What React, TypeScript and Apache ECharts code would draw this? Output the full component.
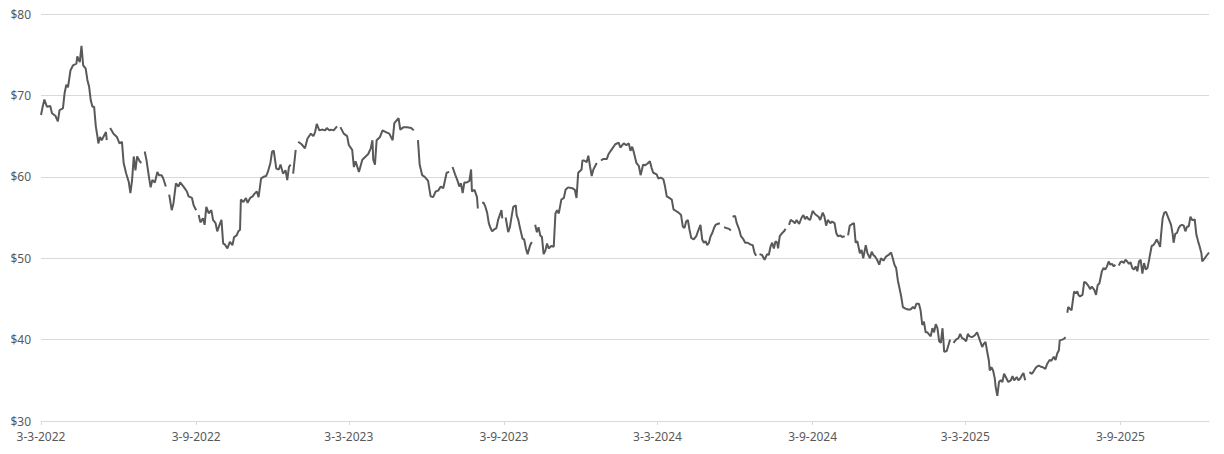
import React, { useEffect, useRef } from 'react';
import * as echarts from 'echarts';

type Point = [string, number | null];

// x-axis tick dates (labels shown as d-m-yyyy)
const tickDates = [
  '2022-03-03', '2022-09-03', '2023-03-03', '2023-09-03',
  '2024-03-03', '2024-09-03', '2025-03-03', '2025-09-03',
];
const firstDate = '2022-03-03';
const lastDate = '2025-12-17';

// closing prices, null = no data (gap in the line)
const prices2022: Point[] = [
  ['2022-03-03', 67.6], ['2022-03-05', 68.6], ['2022-03-07', 69.5], ['2022-03-10', 68.6], ['2022-03-14', 68.7],
  ['2022-03-16', 67.8], ['2022-03-20', 67.5], ['2022-03-23', 66.8], ['2022-03-25', 68.2], ['2022-03-29', 68.4],
  ['2022-03-31', 70.3], ['2022-04-02', 71.3], ['2022-04-04', 71.0], ['2022-04-07', 73.1], ['2022-04-10', 73.7],
  ['2022-04-14', 73.9], ['2022-04-15', 74.8], ['2022-04-18', 74.1], ['2022-04-20', 76.1], ['2022-04-22', 73.7],
  ['2022-04-25', 73.3], ['2022-04-27', 71.9], ['2022-04-29', 71.1], ['2022-05-01', 69.4], ['2022-05-03', 68.6],
  ['2022-05-05', 68.6], ['2022-05-07', 66.2], ['2022-05-09', 64.9], ['2022-05-10', 64.1], ['2022-05-12', 64.9],
  ['2022-05-14', 64.5], ['2022-05-17', 65.1], ['2022-05-19', 65.5], ['2022-05-20', 64.5], ['2022-05-22', null],
  ['2022-05-24', 66.0], ['2022-05-28', 65.3], ['2022-06-01', 64.9], ['2022-06-04', 64.1], ['2022-06-07', 64.3],
  ['2022-06-09', 61.7], ['2022-06-12', 60.4], ['2022-06-15', 59.4], ['2022-06-17', 58.0], ['2022-06-19', 59.6],
  ['2022-06-21', 62.5], ['2022-06-23', 60.8], ['2022-06-25', 62.5], ['2022-06-28', 61.9], ['2022-06-30', 61.7],
  ['2022-07-02', null], ['2022-07-04', 63.1], ['2022-07-06', 62.1], ['2022-07-09', 60.0], ['2022-07-11', 58.7],
  ['2022-07-13', 59.6], ['2022-07-16', 59.3], ['2022-07-19', 60.6], ['2022-07-21', 60.2], ['2022-07-24', 60.2],
  ['2022-07-26', 59.8], ['2022-07-29', 58.8], ['2022-07-31', null], ['2022-08-02', 57.8], ['2022-08-05', 55.9],
  ['2022-08-07', 56.7], ['2022-08-10', 59.2], ['2022-08-13', 58.8], ['2022-08-15', 59.3], ['2022-08-19', 58.8],
  ['2022-08-23', 58.2], ['2022-08-25', 57.6], ['2022-08-29', 57.4], ['2022-08-31', 56.5], ['2022-09-03', 55.9],
  ['2022-09-05', null], ['2022-09-06', 55.3], ['2022-09-08', 54.4], ['2022-09-11', 54.9], ['2022-09-13', 54.1],
  ['2022-09-15', 56.3], ['2022-09-18', 55.5], ['2022-09-21', 55.9], ['2022-09-23', 54.7], ['2022-09-26', 54.3],
  ['2022-09-28', 53.3], ['2022-09-30', 53.9], ['2022-10-03', 54.7], ['2022-10-05', 51.8], ['2022-10-07', 51.7],
  ['2022-10-10', 51.2], ['2022-10-13', 52.0], ['2022-10-16', 51.6], ['2022-10-18', 52.6], ['2022-10-21', 52.8],
  ['2022-10-23', 53.3], ['2022-10-25', 53.5], ['2022-10-26', 57.2], ['2022-10-29', 56.9], ['2022-11-01', 57.4],
  ['2022-11-03', 56.8], ['2022-11-06', 57.4], ['2022-11-09', 57.6], ['2022-11-11', 57.9], ['2022-11-14', 58.2],
  ['2022-11-16', 57.5], ['2022-11-19', 59.8], ['2022-11-22', 60.0], ['2022-11-25', 60.1], ['2022-11-27', 60.6],
  ['2022-11-30', 61.7], ['2022-12-02', 63.1], ['2022-12-04', 63.2], ['2022-12-07', 61.0], ['2022-12-10', 60.9],
  ['2022-12-12', 61.5], ['2022-12-15', 60.4], ['2022-12-18', 60.8], ['2022-12-20', 59.6], ['2022-12-22', 61.2],
  ['2022-12-24', 61.5], ['2022-12-26', null], ['2022-12-27', 60.4], ['2022-12-30', 63.3], ['2022-12-31', null],
];

const prices2023: Point[] = [
  ['2023-01-02', 64.3], ['2023-01-06', 64.0], ['2023-01-10', 63.5], ['2023-01-13', 64.7], ['2023-01-17', 65.3],
  ['2023-01-20', 65.0], ['2023-01-22', 65.5], ['2023-01-24', 66.5], ['2023-01-27', 65.7], ['2023-01-30', 65.8],
  ['2023-02-03', 65.7], ['2023-02-05', 66.0], ['2023-02-08', 65.7], ['2023-02-10', 65.8], ['2023-02-13', 65.7],
  ['2023-02-17', 66.2], ['2023-02-19', null], ['2023-02-21', 66.1], ['2023-02-25', 65.3], ['2023-03-01', 65.0],
  ['2023-03-03', 63.9], ['2023-03-07', 63.3], ['2023-03-09', 61.2], ['2023-03-11', 61.9], ['2023-03-15', 60.6],
  ['2023-03-19', 62.1], ['2023-03-23', 62.5], ['2023-03-26', 62.8], ['2023-03-29', 63.5], ['2023-03-31', 64.5],
  ['2023-04-01', 62.1], ['2023-04-03', 61.5], ['2023-04-05', 64.5], ['2023-04-09', 64.9], ['2023-04-12', 65.7],
  ['2023-04-16', 65.5], ['2023-04-20', 65.3], ['2023-04-24', 64.5], ['2023-04-26', 66.6], ['2023-05-01', 67.2],
  ['2023-05-03', 65.8], ['2023-05-07', 66.1], ['2023-05-11', 66.1], ['2023-05-16', 66.0], ['2023-05-19', 65.7],
  ['2023-05-22', null], ['2023-05-24', 64.5], ['2023-05-26', 61.5], ['2023-05-29', 60.2], ['2023-06-01', 60.0],
  ['2023-06-05', 59.5], ['2023-06-08', 57.6], ['2023-06-11', 57.5], ['2023-06-14', 58.2], ['2023-06-17', 58.3],
  ['2023-06-20', 58.8], ['2023-06-23', 58.6], ['2023-06-27', 60.5], ['2023-06-30', 60.6], ['2023-07-02', null],
  ['2023-07-04', 61.2], ['2023-07-07', 60.3], ['2023-07-10', 59.5], ['2023-07-12', 58.8], ['2023-07-14', 59.2],
  ['2023-07-16', 58.0], ['2023-07-18', 59.3], ['2023-07-21', 59.3], ['2023-07-24', 59.5], ['2023-07-26', 60.9],
  ['2023-07-27', 58.2], ['2023-07-30', 58.4], ['2023-08-02', 57.5], ['2023-08-03', 56.1], ['2023-08-05', null],
  ['2023-08-08', 56.8], ['2023-08-10', 56.8], ['2023-08-12', 56.3], ['2023-08-14', 55.6], ['2023-08-16', 54.3],
  ['2023-08-18', 53.7], ['2023-08-20', 53.3], ['2023-08-22', 53.5], ['2023-08-25', 53.7], ['2023-08-27', 54.7],
  ['2023-08-29', 55.3], ['2023-08-31', 55.9], ['2023-09-01', 54.9], ['2023-09-03', null], ['2023-09-05', 55.0],
  ['2023-09-08', 53.2], ['2023-09-10', 53.8], ['2023-09-12', 55.1], ['2023-09-14', 56.3], ['2023-09-17', 56.5],
  ['2023-09-18', 55.3], ['2023-09-20', 54.7], ['2023-09-22', 53.7], ['2023-09-25', 52.4], ['2023-09-27', 52.3],
  ['2023-09-29', 51.2], ['2023-10-01', 50.5], ['2023-10-04', 51.6], ['2023-10-06', 52.0], ['2023-10-08', null],
  ['2023-10-10', 54.1], ['2023-10-12', 53.2], ['2023-10-14', 53.8], ['2023-10-16', 52.8], ['2023-10-18', 52.6],
  ['2023-10-20', 50.5], ['2023-10-22', 50.9], ['2023-10-24', 51.8], ['2023-10-26', 51.2], ['2023-10-29', 51.5],
  ['2023-11-01', 51.4], ['2023-11-03', 55.5], ['2023-11-05', 55.9], ['2023-11-07', 55.5], ['2023-11-10', 57.2],
  ['2023-11-13', 57.4], ['2023-11-15', 58.4], ['2023-11-18', 58.7], ['2023-11-23', 58.6], ['2023-11-26', 58.4],
  ['2023-11-28', 57.4], ['2023-11-30', 60.5], ['2023-12-04', 60.9], ['2023-12-05', 62.0], ['2023-12-07', 62.0],
  ['2023-12-10', 61.8], ['2023-12-12', 62.6], ['2023-12-14', 61.3], ['2023-12-16', 60.1], ['2023-12-18', 60.9],
  ['2023-12-20', 61.3], ['2023-12-22', 61.7], ['2023-12-24', null], ['2023-12-27', 62.0], ['2023-12-30', 62.2],
];

const prices2024: Point[] = [
  ['2024-01-03', 62.2], ['2024-01-05', 62.8], ['2024-01-09', 63.4], ['2024-01-13', 64.0], ['2024-01-17', 64.2],
  ['2024-01-19', 63.6], ['2024-01-23', 64.1], ['2024-01-26', 63.9], ['2024-01-29', 64.1], ['2024-01-31', 63.2],
  ['2024-02-02', 63.7], ['2024-02-04', 63.0], ['2024-02-07', 61.7], ['2024-02-10', 61.3], ['2024-02-12', 60.2],
  ['2024-02-15', 61.5], ['2024-02-17', 61.4], ['2024-02-20', 61.6], ['2024-02-23', 61.9], ['2024-02-25', 61.1],
  ['2024-02-27', 60.5], ['2024-03-02', 60.3], ['2024-03-04', 59.8], ['2024-03-07', 59.9], ['2024-03-10', 59.7],
  ['2024-03-12', 58.8], ['2024-03-14', 57.6], ['2024-03-17', 57.4], ['2024-03-20', 57.2], ['2024-03-22', 56.0],
  ['2024-03-25', 55.8], ['2024-03-28', 55.6], ['2024-03-31', 55.3], ['2024-04-02', 53.9], ['2024-04-04', 53.7],
  ['2024-04-06', 54.5], ['2024-04-08', 54.7], ['2024-04-10', 53.5], ['2024-04-12', 52.5], ['2024-04-15', 52.3],
  ['2024-04-18', 52.7], ['2024-04-20', 53.3], ['2024-04-23', 54.1], ['2024-04-25', 52.3], ['2024-04-27', 51.9],
  ['2024-04-29', 52.1], ['2024-05-01', 51.6], ['2024-05-03', 51.9], ['2024-05-05', 52.7], ['2024-05-07', 53.1],
  ['2024-05-09', 53.7], ['2024-05-11', 54.1], ['2024-05-13', 54.2], ['2024-05-16', 54.3], ['2024-05-18', null],
  ['2024-05-21', 53.8], ['2024-05-24', 53.7], ['2024-05-27', 53.6], ['2024-05-29', 53.4], ['2024-05-30', null],
  ['2024-05-31', 55.1], ['2024-06-03', 55.2], ['2024-06-05', 54.3], ['2024-06-08', 53.5], ['2024-06-10', 52.7],
  ['2024-06-13', 52.3], ['2024-06-15', 51.9], ['2024-06-18', 51.9], ['2024-06-21', 51.7], ['2024-06-24', 51.6],
  ['2024-06-26', 50.7], ['2024-06-28', 50.3], ['2024-06-30', null], ['2024-07-02', 50.5], ['2024-07-05', 50.4],
  ['2024-07-08', 49.8], ['2024-07-11', 50.5], ['2024-07-13', 50.4], ['2024-07-15', 51.4], ['2024-07-17', 51.9],
  ['2024-07-19', 51.2], ['2024-07-21', 52.1], ['2024-07-23', 51.9], ['2024-07-24', 51.2], ['2024-07-26', 52.7],
  ['2024-07-29', 53.1], ['2024-07-31', 53.3], ['2024-08-02', 53.6], ['2024-08-04', null], ['2024-08-06', 54.1],
  ['2024-08-08', 54.7], ['2024-08-11', 54.5], ['2024-08-13', 54.3], ['2024-08-15', 54.7], ['2024-08-18', 54.2],
  ['2024-08-21', 55.0], ['2024-08-23', 55.3], ['2024-08-25', 54.8], ['2024-08-27', 55.1], ['2024-08-29', 54.8],
  ['2024-08-31', 54.7], ['2024-09-03', 55.8], ['2024-09-06', 55.4], ['2024-09-10', 55.1], ['2024-09-12', 54.7],
  ['2024-09-15', 55.6], ['2024-09-17', 55.1], ['2024-09-19', 54.0], ['2024-09-21', 54.7], ['2024-09-24', 54.3],
  ['2024-09-26', 54.5], ['2024-09-29', 54.3], ['2024-10-01', 53.1], ['2024-10-03', 52.7], ['2024-10-06', 52.8],
  ['2024-10-08', 52.6], ['2024-10-11', 52.7], ['2024-10-13', null], ['2024-10-15', 52.8], ['2024-10-17', 54.0],
  ['2024-10-20', 54.2], ['2024-10-22', 54.3], ['2024-10-24', 51.9], ['2024-10-26', 52.1], ['2024-10-29', 50.6],
  ['2024-10-31', 51.0], ['2024-11-02', 50.0], ['2024-11-05', 51.6], ['2024-11-07', 50.6], ['2024-11-10', 50.0],
  ['2024-11-12', 50.8], ['2024-11-14', 50.4], ['2024-11-16', 50.2], ['2024-11-18', 49.9], ['2024-11-21', 49.2],
  ['2024-11-23', 50.0], ['2024-11-26', 49.7], ['2024-11-29', 50.2], ['2024-12-02', 50.4], ['2024-12-05', 50.7],
  ['2024-12-07', 50.0], ['2024-12-09', 49.2], ['2024-12-11', 48.8], ['2024-12-13', 47.3], ['2024-12-15', 46.3],
  ['2024-12-17', 45.3], ['2024-12-19', 44.0], ['2024-12-22', 43.8], ['2024-12-25', 43.7], ['2024-12-28', 43.7],
  ['2024-12-31', 44.0],
];

const prices2025: Point[] = [
  ['2025-01-02', 43.8], ['2025-01-04', 44.4], ['2025-01-07', 44.4], ['2025-01-09', 43.6], ['2025-01-11', 41.8],
  ['2025-01-13', 42.2], ['2025-01-15', 40.9], ['2025-01-17', 40.9], ['2025-01-21', 40.4], ['2025-01-23', 41.4],
  ['2025-01-25', 40.9], ['2025-01-27', 41.9], ['2025-01-29', 41.4], ['2025-01-31', 39.8], ['2025-02-02', 39.6],
  ['2025-02-04', 41.4], ['2025-02-06', 38.5], ['2025-02-09', 38.6], ['2025-02-11', 39.3], ['2025-02-13', 40.0],
  ['2025-02-15', null], ['2025-02-17', 39.6], ['2025-02-20', 40.0], ['2025-02-23', 40.2], ['2025-02-25', 40.7],
  ['2025-02-27', 40.2], ['2025-03-01', 40.1], ['2025-03-04', 39.8], ['2025-03-06', 40.7], ['2025-03-08', 40.4],
  ['2025-03-11', 40.3], ['2025-03-14', 40.5], ['2025-03-17', 40.9], ['2025-03-19', 40.3], ['2025-03-21', 39.7],
  ['2025-03-23', 39.1], ['2025-03-25', 39.5], ['2025-03-27', 39.7], ['2025-03-29', 38.5], ['2025-03-31', 37.4],
  ['2025-04-01', 36.2], ['2025-04-03', 36.6], ['2025-04-05', 36.2], ['2025-04-07', 35.2], ['2025-04-08', 34.2],
  ['2025-04-10', 33.1], ['2025-04-12', 34.8], ['2025-04-14', 35.0], ['2025-04-16', 34.8], ['2025-04-18', 35.8],
  ['2025-04-20', 35.4], ['2025-04-23', 34.8], ['2025-04-26', 35.0], ['2025-04-28', 35.5], ['2025-04-30', 35.0],
  ['2025-05-03', 35.4], ['2025-05-05', 35.0], ['2025-05-07', 35.2], ['2025-05-09', 35.6], ['2025-05-11', 35.9],
  ['2025-05-13', 35.0], ['2025-05-15', null], ['2025-05-18', 36.0], ['2025-05-21', 35.8], ['2025-05-23', 36.1],
  ['2025-05-26', 36.6], ['2025-05-29', 36.8], ['2025-05-31', 36.7], ['2025-06-03', 36.6], ['2025-06-06', 36.4],
  ['2025-06-08', 37.0], ['2025-06-11', 37.5], ['2025-06-13', 37.4], ['2025-06-16', 37.9], ['2025-06-18', 37.5],
  ['2025-06-20', 38.3], ['2025-06-22', 38.7], ['2025-06-23', 39.9], ['2025-06-26', 40.0], ['2025-06-28', 40.1],
  ['2025-06-30', 40.3], ['2025-07-01', null], ['2025-07-02', 43.3], ['2025-07-03', 44.0], ['2025-07-05', 43.8],
  ['2025-07-07', 43.6], ['2025-07-10', 45.9], ['2025-07-12', 45.7], ['2025-07-14', 45.9], ['2025-07-15', 45.5],
  ['2025-07-17', 45.3], ['2025-07-20', 45.5], ['2025-07-22', 47.1], ['2025-07-24', 47.0], ['2025-07-27', 46.6],
  ['2025-07-29', 46.2], ['2025-07-31', 46.5], ['2025-08-03', 46.1], ['2025-08-05', 45.5], ['2025-08-07', 46.7],
  ['2025-08-09', 46.9], ['2025-08-12', 48.4], ['2025-08-14', 48.8], ['2025-08-16', 48.6], ['2025-08-18', 49.0],
  ['2025-08-20', 49.6], ['2025-08-22', 49.2], ['2025-08-24', 49.3], ['2025-08-26', 49.0], ['2025-08-28', 49.2],
  ['2025-08-30', null], ['2025-09-01', 49.1], ['2025-09-03', 49.5], ['2025-09-05', 49.6], ['2025-09-07', 49.4],
  ['2025-09-09', 49.8], ['2025-09-11', 49.6], ['2025-09-13', 49.3], ['2025-09-15', 49.5], ['2025-09-17', 48.8],
  ['2025-09-19', 48.6], ['2025-09-21', 49.0], ['2025-09-23', 48.4], ['2025-09-25', 49.6], ['2025-09-27', 49.8],
  ['2025-09-29', 48.1], ['2025-10-01', 49.4], ['2025-10-03', 48.6], ['2025-10-05', 48.8], ['2025-10-07', 49.8],
  ['2025-10-08', 50.4], ['2025-10-10', 51.5], ['2025-10-12', 51.6], ['2025-10-14', 51.9], ['2025-10-16', 52.3],
  ['2025-10-18', 51.9], ['2025-10-20', 51.4], ['2025-10-21', 52.7], ['2025-10-23', 54.9], ['2025-10-25', 55.6],
  ['2025-10-27', 55.7], ['2025-10-30', 54.9], ['2025-11-02', 54.1], ['2025-11-04', 52.9], ['2025-11-05', 51.9],
  ['2025-11-07', 53.0], ['2025-11-09', 53.1], ['2025-11-11', 53.7], ['2025-11-13', 54.0], ['2025-11-15', 54.1],
  ['2025-11-17', 54.0], ['2025-11-19', 53.3], ['2025-11-21', 53.9], ['2025-11-23', 53.9], ['2025-11-25', 55.1],
  ['2025-11-27', 54.7], ['2025-11-29', 54.7], ['2025-11-30', 54.8], ['2025-12-02', 52.9], ['2025-12-04', 52.1],
  ['2025-12-06', 51.4], ['2025-12-08', 50.6], ['2025-12-09', 49.6], ['2025-12-12', 50.0], ['2025-12-14', 50.3],
  ['2025-12-17', 50.7],
];

const toTime = (s: string) => {
  const [y, m, d] = s.split('-').map(Number);
  return new Date(y, m - 1, d).getTime();
};

const formatDate = (t: number) => {
  const d = new Date(t);
  return `${d.getDate()}-${d.getMonth() + 1}-${d.getFullYear()}`;
};

const PriceChart: React.FC = () => {
  const chartRef = useRef<HTMLDivElement>(null);

  useEffect(() => {
    if (!chartRef.current) return;
    const chart = echarts.init(chartRef.current, undefined, { renderer: 'svg' });

    const allPoints = [...prices2022, ...prices2023, ...prices2024, ...prices2025];
    const seriesData = allPoints.map(([date, value]) => [toTime(date), value == null ? '-' : value]);
    const ticks = tickDates.map(toTime);

    chart.setOption({
      animation: false,
      grid: { left: 41, right: 15, top: 14, bottom: 33 },
      xAxis: {
        // dates as timestamps on a value axis so ticks can sit on the 3rd of the month
        type: 'value',
        min: toTime(firstDate),
        max: toTime(lastDate),
        axisLine: { show: true, lineStyle: { color: '#d9d9d9', width: 1 } },
        axisTick: { show: true, customValues: ticks, length: 4, lineStyle: { color: '#d9d9d9' } },
        axisLabel: {
          customValues: ticks,
          formatter: (v: number) => formatDate(v),
          color: '#595959',
          fontFamily: 'Noto Sans',
          fontSize: 12,
          margin: 9,
          showMinLabel: true,
          showMaxLabel: true,
        },
        splitLine: { show: false },
      },
      yAxis: {
        type: 'value',
        min: 30,
        max: 80,
        interval: 10,
        axisLine: { show: false },
        axisTick: { show: false },
        axisLabel: {
          formatter: (v: number) => `$${v}`,
          color: '#595959',
          fontFamily: 'Noto Sans',
          fontSize: 12,
          margin: 10,
        },
        splitLine: { show: true, lineStyle: { color: '#d9d9d9', width: 1 } },
      },
      series: [
        {
          type: 'line',
          data: seriesData,
          showSymbol: false,
          connectNulls: false,
          lineStyle: { color: '#595959', width: 2 },
          itemStyle: { color: '#595959' },
        },
      ],
    });

    return () => {
      chart.dispose();
    };
  }, []);

  return <div ref={chartRef} style={{ width: 1224, height: 454 }} />;
};

export default function App() {
  useEffect(() => {
    document.body.style.margin = '0';
  }, []);
  return <PriceChart />;
}
